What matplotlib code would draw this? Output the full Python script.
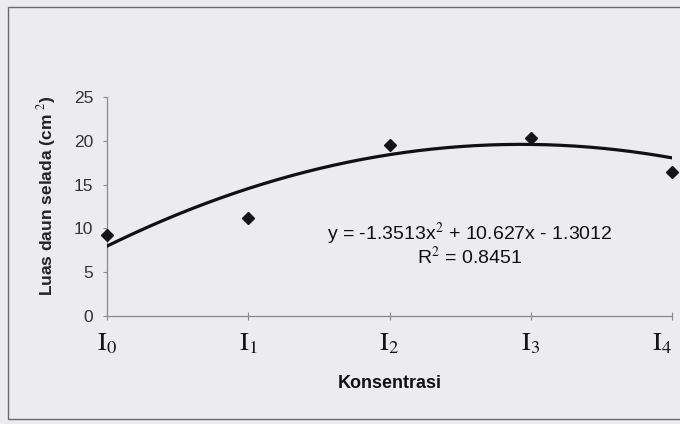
import numpy as np
import matplotlib
matplotlib.use("Agg")
import matplotlib.pyplot as plt
from matplotlib.patches import Rectangle
from matplotlib.transforms import ScaledTranslation

# Leaf area per concentration level
levels = [1, 2, 3, 4, 5]
level_labels = [r"$\mathrm{I_0}$", r"$\mathrm{I_1}$", r"$\mathrm{I_2}$", r"$\mathrm{I_3}$", r"$\mathrm{I_4}$"]
leaf_area = [9.25, 11.2, 19.5, 20.3, 16.4]

# Quadratic trendline coefficients and fit quality
coef_a, coef_b, coef_c = -1.3513, 10.627, -1.3012
r_squared = 0.8451
y_ticks = [0, 5, 10, 15, 20, 25]

plt.rcParams["font.family"] = ["Liberation Sans", "DejaVu Sans"]
plt.rcParams["mathtext.fontset"] = "stix"

bg = "#ecebed"
fig = plt.figure(figsize=(6.8, 4.24), dpi=100, facecolor=bg)

# outer chart frame
fig.patches.append(Rectangle((8 / 680, 5 / 424), 1.0, 412 / 424, transform=fig.transFigure,
                             fill=False, edgecolor="#6a6a6a", linewidth=1.0))

ax = fig.add_axes([107 / 680, 1 - 316 / 424, (672 - 107) / 680, (316 - 97) / 424])
ax.set_facecolor("none")

xs = np.linspace(levels[0], levels[-1], 200)
ax.plot(xs, coef_a * xs**2 + coef_b * xs + coef_c, color="#111111", linewidth=2.3,
        solid_capstyle="round", zorder=3)
ax.plot(levels, leaf_area, linestyle="none", marker="D", markersize=6.5,
        color="#151515", zorder=4, clip_on=False)

ax.set_xlim(1, 5)
ax.set_ylim(0, 25)
ax.set_yticks(y_ticks)
ax.set_xticks(levels)
ax.set_xticklabels(level_labels, fontsize=19, color="#151515")

# keep the last category label inside the frame
last = ax.get_xticklabels()[-1]
last.set_horizontalalignment("right")
last.set_transform(last.get_transform() + ScaledTranslation(4 / 72, 0, fig.dpi_scale_trans))

for side in ("top", "right"):
    ax.spines[side].set_visible(False)
for side in ("left", "bottom"):
    ax.spines[side].set_color("#8a8a8a")
    ax.spines[side].set_linewidth(0.9)

ax.tick_params(axis="y", direction="out", length=3, color="#8a8a8a", labelsize=12.5,
               labelcolor="#333333", pad=7)
ax.tick_params(axis="x", direction="inout", length=6, color="#8a8a8a", pad=8)

ax.set_ylabel("Luas daun selada (cm $^{2}$)", fontsize=12.5, color="#222222",
              fontweight="bold", labelpad=12)
ax.yaxis.set_label_coords(-0.087, 0.55)
ax.set_xlabel("Konsentrasi", fontsize=13, color="#111111", fontweight="bold", labelpad=14)

eq_text = "y = %.4fx$^{2}$ + %.3fx - %.4f" % (coef_a, coef_b, abs(coef_c))
ax.text(0.642, 0.374, eq_text, transform=ax.transAxes, ha="center", va="center",
        fontsize=14, color="#111111")
ax.text(0.642, 0.27, "R$^{2}$ = %.4f" % r_squared, transform=ax.transAxes,
        ha="center", va="center", fontsize=14, color="#111111")

fig.savefig("out.png", dpi=100, facecolor=bg)
